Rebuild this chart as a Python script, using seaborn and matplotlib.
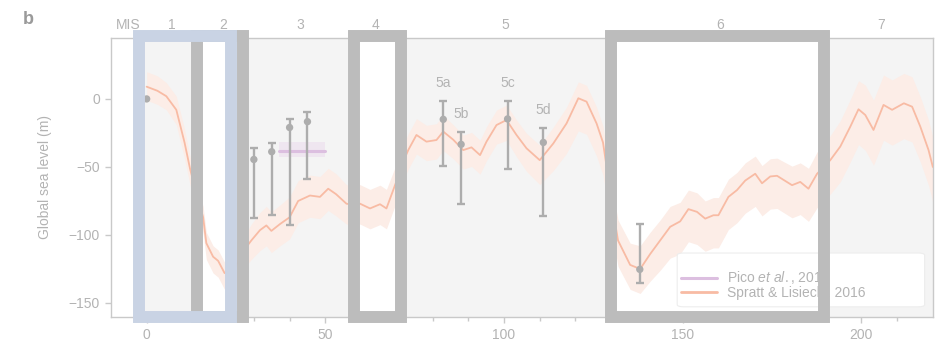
import numpy as np
import pandas as pd
import matplotlib
matplotlib.use("Agg")
import matplotlib.pyplot as plt
import matplotlib.transforms as mtransforms
from matplotlib.patches import Rectangle, FancyBboxPatch
from matplotlib.lines import Line2D
import seaborn as sns

# ---------------- data ----------------
# Spratt & Lisiecki (2016) sea-level stack (ka, m)
age = [0, 3, 5.5, 8.3, 10.6, 12.2, 14, 15.8, 16.7, 18.6, 20, 21.8, 24, 27,
       29.3, 31.7, 33.5, 34.9, 37.3, 40, 42.4, 45.7, 48.5, 50.8, 53, 55.9,
       58, 59.7, 62.5, 65.3, 67.1, 69.7, 71.5, 73.2, 75.5, 78.3, 81.1, 83,
       85.8, 88.6, 90.9, 93.3, 95.1, 97.9, 100.7, 103.5, 106.3, 110, 113.8,
       117.5, 120.8, 123.1, 125.9, 127.7, 129, 130.5, 131.9, 135.3, 138.1,
       140.9, 143.7, 146.5, 149.3, 151.6, 154, 156.3, 158.6, 160, 162.8,
       165.2, 167.5, 170.3, 172.2, 174.5, 176.4, 180.6, 182.9, 185.2, 187.6,
       189.5, 191.3, 194.1, 196.9, 199.2, 201.1, 203.4, 206.2, 208.6, 211.9,
       214.2, 216.5, 218.8, 220]
sea = [9, 6, 2, -8, -32, -52, -70, -87, -106, -116, -119, -128, -128, -112,
       -104, -96.5, -93, -97, -92, -87, -75, -71, -72, -66, -70, -77,
       -78, -77, -80.5, -77.4, -80.5, -62, -48, -37.6, -26.5, -31.4, -30.2, -24,
       -30, -37.6, -35.6, -41.3, -31.4, -19.2, -15.5, -26.5, -36.3, -45, -32.7,
       -18, 0.5, -2, -18, -32, -55, -82, -104, -122, -125,
       -114, -104, -94, -90, -81, -83, -88, -85.5, -85.5, -72,
       -67, -60, -55, -62, -57, -56.5, -63.4, -61, -66, -55,
       -50, -45, -35, -20.4, -7.6, -11.8, -22.8, -4.4, -8, -3.2,
       -5.7, -20.4, -37.6, -50]
# confidence band offsets above / below the curve (m)
band_up = [11, 11, 10, 10, 10, 9, 9, 8, 8, 8, 8, 8, 9, 10,
           12, 13, 14, 14, 14, 15, 15, 15, 15, 15, 15, 14,
           14, 14, 14, 14, 14, 13, 12, 12, 12, 12, 12, 12,
           11, 11, 11, 11, 11, 11, 11, 11, 11, 11, 12,
           12, 12, 12, 12, 12, 13, 14, 15, 16, 17,
           16, 15, 15, 14, 14, 14, 13, 13, 13, 13,
           13, 13, 13, 13, 13, 13, 14, 14, 15, 16,
           17, 18, 19, 20, 21, 22, 22, 22, 22, 22,
           22, 22, 22, 22]
band_dn = [10, 10, 10, 11, 12, 12, 12, 12, 12, 12, 12, 12, 12, 13,
           14, 15, 15, 16, 16, 16, 16, 16, 16, 16, 16, 15,
           15, 15, 15, 15, 15, 15, 14, 14, 14, 14, 14, 14,
           14, 14, 14, 14, 14, 14, 15, 16, 17, 18, 20,
           22, 24, 24, 24, 24, 22, 20, 19, 18, 18,
           20, 22, 23, 24, 24, 24, 24, 24, 24, 24,
           24, 24, 24, 24, 24, 24, 24, 24, 24, 25,
           25, 25, 26, 26, 26, 26, 26, 26, 26, 26,
           26, 26, 26, 26]

# Pico et al. (2017)
pico_age = [37, 50]
pico_sea = [-38, -38]
pico_lo = [-43, -43]
pico_hi = [-32, -32]

# sea-level proxies with uncertainties
proxy_age = [30, 35, 40, 45, 83, 88, 101, 111, 138]
proxy_sea = [-44.5, -38.8, -21, -16.7, -15, -33.4, -14.7, -32, -125.3]
proxy_top = [-36.4, -32.4, -15, -9.8, -1.2, -24.3, -1.2, -21.1, -92.1]
proxy_bot = [-87.2, -85.5, -92.4, -58.5, -49.4, -76.9, -51.8, -86.2, -135.4]
proxy_lab = ["", "", "", "", "5a", "5b", "5c", "5d", ""]
modern_age = [0]
modern_sea = [0]

# marine isotope stages
mis_bounds = [0, 14, 29, 57, 71, 130, 191, 220]
mis_labels = ["1", "2", "3", "4", "5", "6", "7"]

# highlighted intervals
grey_boxes = [(14, 27), (58, 71.3), (130, 189.5)]
blue_box = (-2.2, 23.5)

# ---------------- style ----------------
sns.set_theme(style="white")
plt.rcParams['font.family'] = ['Liberation Sans', 'DejaVu Sans']
plt.rcParams['mathtext.fontset'] = 'custom'
plt.rcParams['mathtext.rm'] = 'Liberation Sans'
plt.rcParams['mathtext.it'] = 'Liberation Sans:italic'

TXT = '#b3b3b3'
SPINE = '#c9c9c9'
BG = '#f4f4f4'
CURVE = '#f8bba4'
BAND = '#fcede7'
PROXY = '#adadad'
PICO = '#dcbfe0'
PICO_BAND = '#efe6f0'
GREY = '#bcbcbc'
BLUE = '#c9d3e4'

fig = plt.figure(figsize=(9.48, 3.46), dpi=100)
ax = fig.add_axes([0.117, 0.085, 0.867, 0.806])
ax.set_facecolor('white')
trans = mtransforms.blended_transform_factory(ax.transData, ax.transAxes)

ax.axvspan(-3, 220, color=BG, lw=0, zorder=0)

# white fills of highlighted intervals
for x0, x1 in grey_boxes:
    ax.add_patch(Rectangle((x0, 0), x1 - x0, 1.005, transform=trans,
                           facecolor='white', edgecolor='none', zorder=0.5))

df = pd.DataFrame({'age': age, 'sea': sea})
lo = np.array(sea) - np.array(band_dn)
hi = np.array(sea) + np.array(band_up)
ax.fill_between(age, lo, hi, color=BAND, lw=0, zorder=1)
sns.lineplot(data=df, x='age', y='sea', color=CURVE, lw=1.3, ax=ax, zorder=3)

ax.fill_between(pico_age, pico_lo, pico_hi, color=PICO_BAND, lw=0, zorder=2)
sns.lineplot(x=pico_age, y=pico_sea, color=PICO, lw=2.2, ax=ax, zorder=3)

ps = np.array(proxy_sea)
yerr = [ps - np.array(proxy_bot), np.array(proxy_top) - ps]
ax.errorbar(proxy_age, proxy_sea, yerr=yerr, fmt='none', ecolor=PROXY,
            elinewidth=1.7, capsize=3, capthick=1.7, zorder=6)
sns.scatterplot(x=proxy_age + modern_age, y=proxy_sea + modern_sea,
                color=PROXY, s=28, edgecolor='none', ax=ax, zorder=7)
for xa, yt, lab in zip(proxy_age, proxy_top, proxy_lab):
    if lab:
        ax.annotate(lab, (xa, yt), xytext=(0, 12.7), textcoords='offset points',
                    ha='center', va='center', fontsize=10, color=TXT)

ax.set_xlim(-10, 220)
ax.set_ylim(-160, 45)
ax.set_xticks([0, 50, 100, 150, 200])
ax.set_xticks(np.arange(10, 220, 10), minor=True)
ax.set_yticks([0, -50, -100, -150])
ax.set_yticklabels(['0', '\u221250', '\u2212100', '\u2212150'])
ax.tick_params(axis='both', which='major', length=4, width=1, color=SPINE,
               labelcolor=TXT, labelsize=10, pad=4, bottom=True, left=True)
ax.tick_params(axis='x', which='minor', length=3, width=1, color=SPINE, bottom=True)
for s in ax.spines.values():
    s.set_color(SPINE)
    s.set_linewidth(1.0)
ax.set_xlabel('')
ax.set_ylabel('Global sea level (m)', fontsize=10, color=TXT, labelpad=12)

# MIS labels
mids = [(a + b) / 2 for a, b in zip(mis_bounds[:-1], mis_bounds[1:])]
for m, lab in zip(mids, mis_labels):
    ax.text(m, 1.045, lab, transform=trans, ha='center', va='center',
            fontsize=10, color=TXT, clip_on=False)
ax.text(-5.3, 1.045, 'MIS', transform=trans, ha='center', va='center',
        fontsize=10, color=TXT, clip_on=False)

# legend
frame = FancyBboxPatch((0.689, 0.035), 0.301, 0.193,
                       boxstyle='round,pad=0,rounding_size=0.008',
                       transform=ax.transAxes, facecolor='white',
                       edgecolor='#ededed', lw=0.8, zorder=4)
ax.add_patch(frame)
handles = [Line2D([], [], color=PICO, lw=2.2),
           Line2D([], [], color=CURVE, lw=2.0)]
labels = [r'Pico $\it{et\ al.}$, 2017', 'Spratt & Lisiecki, 2016']
leg = ax.legend(handles, labels, loc='center left', bbox_to_anchor=(0.694, 0.115),
                frameon=False, fontsize=10, handlelength=2.6, handletextpad=0.72,
                labelspacing=-0.05, borderpad=0, borderaxespad=0, labelcolor=TXT)
leg.set_zorder(5)

# highlighted interval outlines
for x0, x1 in grey_boxes:
    ax.add_patch(Rectangle((x0, 0), x1 - x0, 1.005, transform=trans, fill=False,
                           edgecolor=GREY, lw=8.6, joinstyle='miter',
                           zorder=10, clip_on=False))
ax.add_patch(Rectangle((blue_box[0], 0), blue_box[1] - blue_box[0], 1.005,
                       transform=trans, fill=False, edgecolor=BLUE, lw=8.6,
                       joinstyle='miter', zorder=11, clip_on=False))

fig.text(0.03, 0.945, 'b', fontsize=13, fontweight='bold', color='#9a9a9a',
         ha='center', va='center')

fig.savefig('out.png', dpi=100)
